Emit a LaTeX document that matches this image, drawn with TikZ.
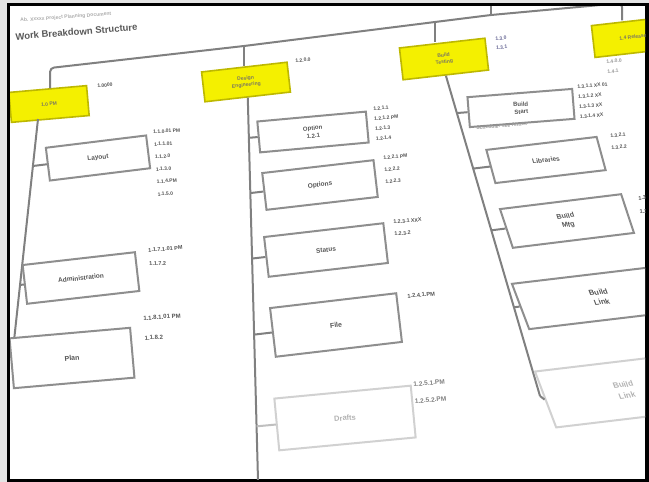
\documentclass[tikz,border=0pt]{standalone}
\usepackage{fontspec}
\setmainfont{Liberation Sans}
\usetikzlibrary{calc}
\definecolor{ybox}{HTML}{F4F000}
\definecolor{yedge}{HTML}{BDB800}
\definecolor{boxedge}{HTML}{8E8E8E}
\definecolor{spinec}{HTML}{808080}
\definecolor{txt}{HTML}{555555}
\definecolor{outer}{HTML}{E4E4E4}
\begin{document}
\begin{tikzpicture}[x=1pt,y=-1pt,
  wbox/.style={draw=boxedge, line width=2pt, fill=white, inner sep=0pt,
    font=\bfseries\fontsize{6.5}{8}\selectfont, text=txt, align=center},
  ybx/.style={draw=yedge, line width=1.6pt, fill=ybox, inner sep=0pt,
    font=\bfseries\fontsize{5}{6.5}\selectfont, text=yellow!25!black!80, align=center},
  lbl/.style={font=\bfseries\fontsize{5}{10}\selectfont, text=txt, anchor=north west,
    align=left, inner sep=0pt},
  spine/.style={draw=spinec, line width=2pt},
  faded/.style={draw=black!18, text=black!30}]
\useasboundingbox (0,0) rectangle (649,482);
\fill[outer] (0,0) rectangle (649,482);
\fill[black] (7,3) rectangle (649,482);
\fill[white] (10,6) rectangle (645,479);
\begin{scope}
\clip (10,6) rectangle (645,479);
% heading
\node[lbl, rotate=4, text=black!32, font=\bfseries\fontsize{5}{6}\selectfont] (sub) at (20,18) {Ab. Xxxxx Project Planning Document};
\node[lbl, rotate=4.5, font=\bfseries\fontsize{9.5}{11}\selectfont, text=black!65] (title) at (15,33) {Work Breakdown Structure};
% level 1 boxes
\node[ybx, rotate=5, minimum width=78, minimum height=30] (Y1) at (49,104) {1.0 PM};
\node[ybx, rotate=6.5, minimum width=86, minimum height=30] (Y2) at (246,82) {Design\\Engineering};
\node[ybx, rotate=6.5, minimum width=86, minimum height=32] (Y3) at (444,59) {Build\\Testing};
\node[ybx, rotate=6.5, minimum width=80, minimum height=32] (Y4) at (633,37) {1.4 Release};
% top line
\coordinate (t1) at (50,68);
\coordinate (t2) at (244,46);
\coordinate (t3) at (435,22);
\coordinate (t4) at (491,15);
\coordinate (t5) at (622,3);
\coordinate (root) at (491,2);
\draw[spine, rounded corners=4pt] (Y1.north -| t1) -- (t1) -- (t2) -- (t3) -- (t4) -- (t5) -- (Y4.north -| t5);
\draw[spine] (t2) -- (Y2.north -| t2);
\draw[spine] (t3) -- (Y3.north -| t3);
\draw[spine] (t4) -- (root);
\node[lbl, rotate=5] (Y1l) at (97,84) {1.0000};
\node[lbl, rotate=5] (Y2l) at (295,59) {1.2.0.0};
\node[lbl, rotate=5, text=blue!30!black!60, font=\bfseries\fontsize{5}{9}\selectfont] (Y3l) at (495,37) {1.3.0\\1.3.1};
\node[lbl, rotate=6, text=black!40] (Y4l) at (606,60) {1.4.0.0\\1.4.1};
% column 1
\coordinate (c1t) at (38,119);
\coordinate (c1b) at (13,350);
\draw[spine] (c1t) -- (c1b);
\node[wbox, rotate=7, minimum width=101, minimum height=33] (A) at (98,158) {Layout};
\node[wbox, rotate=6.5, minimum width=113, minimum height=39] (B) at (81,278) {Administration};
\node[wbox, rotate=5, minimum width=121, minimum height=50, font=\bfseries\fontsize{7}{8}\selectfont] (C) at (72,358) {Plan};
\draw[spine] (intersection of c1t--c1b and A.west--A.east) -- (A.west);
\draw[spine] (intersection of c1t--c1b and B.west--B.east) -- (B.west);
\node[lbl, rotate=4, font=\bfseries\fontsize{5}{12.5}\selectfont] (Al) at (153,130) {1.1.0.01 PM\\1.1.1.01\\1.1.2.0\\1.1.3.0\\1.1.4.PM\\1.1.5.0};
\node[lbl, rotate=4, font=\bfseries\fontsize{5.5}{14}\selectfont] (Bl) at (148,248) {1.1.7.1.01 PM\\1.1.7.2};
\node[lbl, rotate=4, font=\bfseries\fontsize{6}{20}\selectfont] (Cl) at (143,316) {1.1.8.1.01 PM\\1.1.8.2};
% column 2
\coordinate (c2t) at (Y2.south);
\coordinate (c2b) at (258,480);
\draw[spine] (c2t) -- (c2b);
\node[wbox, rotate=5.2, minimum width=109, minimum height=31, font=\bfseries\fontsize{6}{8}\selectfont] (D) at (313,132) {Option\\1.2.1};
\node[wbox, rotate=6.6, minimum width=112, minimum height=37] (E) at (320,185) {Options};
\node[wbox, rotate=6.6, minimum width=120, minimum height=40] (F) at (326,250) {Status};
\node[wbox, rotate=6.7, minimum width=127, minimum height=49, font=\bfseries\fontsize{7}{8}\selectfont] (G) at (336,325) {File};
\node[wbox, faded, rotate=5.4, minimum width=137, minimum height=52, font=\bfseries\fontsize{7.5}{9}\selectfont] (H) at (345,418) {Drafts};
\foreach \b in {D,E,F,G}
  \draw[spine] (intersection of c2t--c2b and \b.west--\b.east) -- (\b.west);
\draw[spine, draw=black!25] (intersection of c2t--c2b and H.west--H.east) -- (H.west);
\node[lbl, rotate=5] (Dl) at (373,107) {1.2.1.1\\1.2.1.2 PM\\1.2.1.3\\1.2.1.4};
\node[lbl, rotate=5, font=\bfseries\fontsize{5}{12}\selectfont] (El) at (383,156) {1.2.2.1 PM\\1.2.2.2\\1.2.2.3};
\node[lbl, rotate=5, font=\bfseries\fontsize{5.3}{12}\selectfont] (Fl) at (393,220) {1.2.3.1 XXX\\1.2.3.2};
\node[lbl, rotate=5, font=\bfseries\fontsize{5.7}{12}\selectfont] (Gl) at (407,294) {1.2.4.1.PM};
\node[lbl, rotate=5, font=\bfseries\fontsize{6.5}{17}\selectfont, text=black!50] (Hl) at (413,382) {1.2.5.1.PM\\1.2.5.2.PM};
% column 3
\coordinate (c3t) at (Y3.south);
\coordinate (c3b) at (540,396);
\draw[spine] (c3t) -- (c3b);
\node[wbox, rotate=4.5, minimum width=105, minimum height=30, font=\bfseries\fontsize{6}{7.5}\selectfont] (I) at (521,108) {Build\\Start};
\node[wbox, rotate=6.7, xslant=-0.15, minimum width=111, minimum height=34] (J) at (546,160) {Libraries};
\node[wbox, rotate=7, xslant=-0.2, minimum width=122, minimum height=40, font=\bfseries\fontsize{7}{9}\selectfont] (K) at (567,221) {Build\\Mfg};
\node[wbox, rotate=6.8, xslant=-0.25, minimum width=160, minimum height=47, font=\bfseries\fontsize{7.5}{10}\selectfont] (L) at (600,297) {Build\\Link};
\node[wbox, faded, rotate=6.8, xslant=-0.25, minimum width=160, minimum height=58, font=\bfseries\fontsize{8}{11}\selectfont] (M) at (625,390) {Build\\Link};
\foreach \b in {I,J,K,L}
  \draw[spine] (intersection of c3t--c3b and \b.west--\b.east) -- (\b.west);
\draw[spine] (c3b) -- (M.west);
\node[lbl, rotate=5, text=black!40] (Ic) at (476,126) {Schedule: see Annex};
\node[lbl, rotate=5] (Il) at (577,85) {1.3.1.1 XX 01\\1.3.1.2 XX\\1.3.1.3 XX\\1.3.1.4 XX};
\node[lbl, rotate=5, font=\bfseries\fontsize{5}{12}\selectfont] (Jl) at (610,134) {1.3.2.1\\1.3.2.2};
\node[lbl, rotate=5, font=\bfseries\fontsize{5.5}{14}\selectfont] (Kl) at (638,196) {1.3\\1.3};
\end{scope}
\end{tikzpicture}
\end{document}
